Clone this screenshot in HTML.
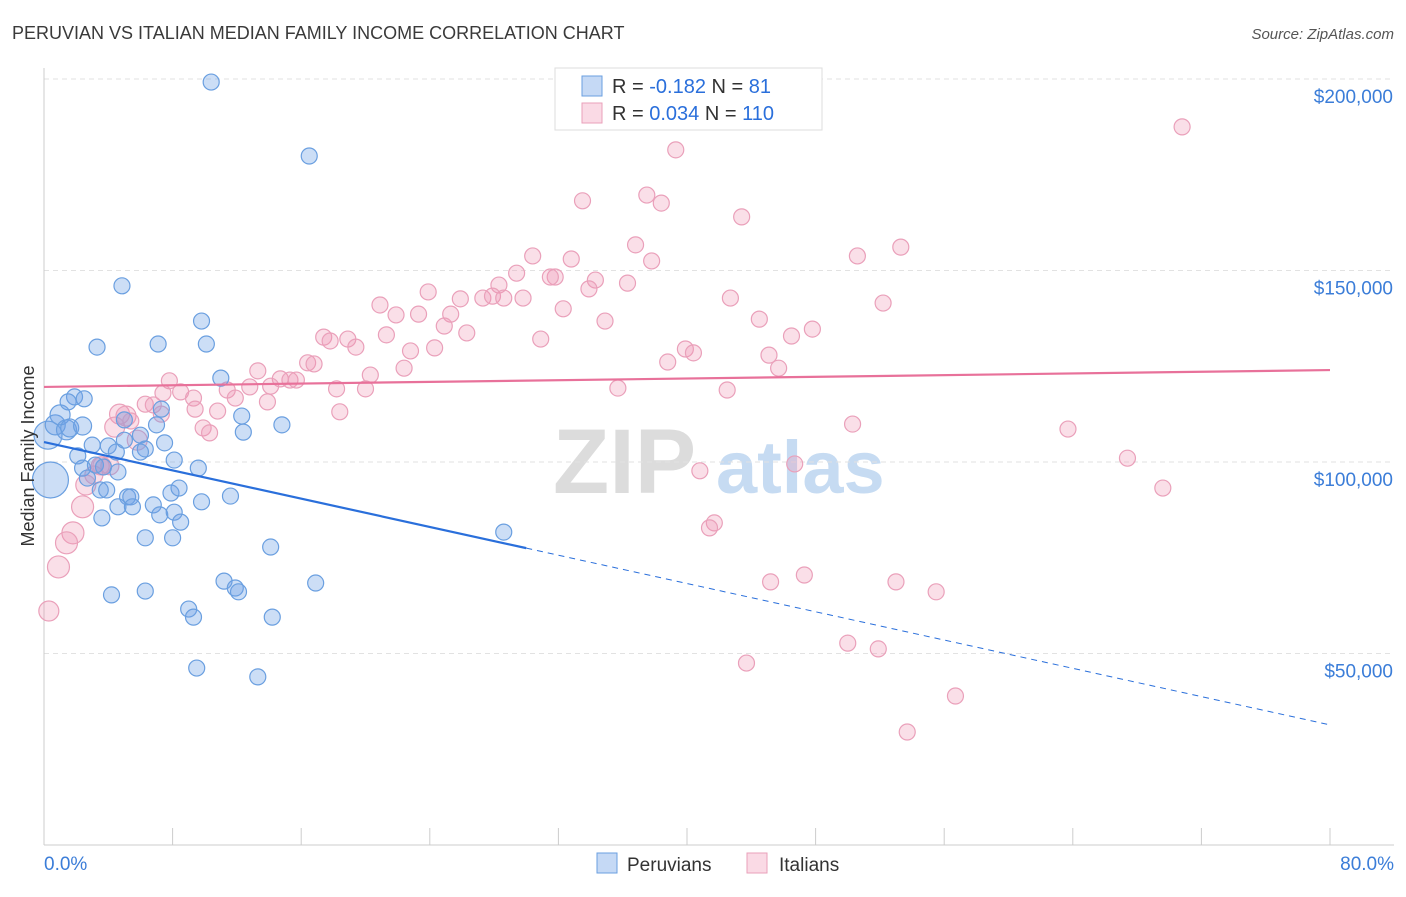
<!DOCTYPE html>
<html><head><meta charset="utf-8">
<style>
body{margin:0;background:#fff;font-family:"Liberation Sans",sans-serif;}
svg text{font-family:"Liberation Sans",sans-serif;}
</style></head>
<body>
<svg id="chart" width="1406" height="892" viewBox="0 0 1406 892" xmlns="http://www.w3.org/2000/svg">
<text x="12" y="39" font-size="18" fill="#3a3a3a">PERUVIAN VS ITALIAN MEDIAN FAMILY INCOME CORRELATION CHART</text>
<text x="1394" y="39" font-size="15" fill="#555" font-style="italic" text-anchor="end">Source: ZipAtlas.com</text>
<g>
<text x="553" y="493" font-size="92" fill="#dcdcdc" font-family="Liberation Serif" font-weight="bold">ZIP</text>
<text x="716" y="493" font-size="74" fill="#c6dbf2" font-weight="bold">atlas</text>
</g>
<g id="grid"></g>
<g id="axes"></g>
<g id="marks"></g>
<text transform="translate(34,456) rotate(-90)" font-size="18" fill="#333" text-anchor="middle">Median Family Income</text>
<g>
<rect x="555" y="68" width="267" height="62" fill="#fff" stroke="#ddd"/>
<rect x="582" y="76" width="20" height="20" fill="rgba(110,160,230,0.4)" stroke="#6a9fe0"/>
<rect x="582" y="103" width="20" height="20" fill="rgba(240,150,180,0.35)" stroke="#eaa0ba"/>
<text x="612" y="93" font-size="20" fill="#333">R = <tspan fill="#2a6fdb">-0.182</tspan>   N = <tspan fill="#2a6fdb">  81</tspan></text>
<text x="612" y="120" font-size="20" fill="#333">R = <tspan fill="#2a6fdb"> 0.034</tspan>   N = <tspan fill="#2a6fdb">110</tspan></text>
</g>
<g>
<rect x="597" y="853" width="20" height="20" fill="rgba(110,160,230,0.4)" stroke="#6a9fe0"/>
<text x="627" y="871" font-size="19" fill="#333">Peruvians</text>
<rect x="747" y="853" width="20" height="20" fill="rgba(240,150,180,0.35)" stroke="#eaa0ba"/>
<text x="779" y="871" font-size="19" fill="#333">Italians</text>
</g>
</svg>
<script>
const yTicks=[50000,100000,150000,200000];
const yTickLabels=["$50,000","$100,000","$150,000","$200,000"];
const xTickCount=10;
const xLabels=["0.0%","80.0%"];
const peruX=[10.4,16.5,4.85,3.3,7.1,9.8,10.1,11.0,0.25,0.4,0.7,1.0,1.4,1.6,1.9,2.5,1.5,2.4,3.0,2.1,2.4,3.2,3.7,4.6,2.7,3.5,3.9,5.2,5.4,4.6,5.5,3.6,4.0,4.5,5.0,6.0,6.3,7.0,7.5,7.3,6.8,7.2,7.9,8.4,8.1,8.5,8.1,9.6,9.8,11.6,6.3,8.0,12.3,12.4,14.8,14.1,4.2,6.3,9.0,9.3,11.2,11.9,12.1,16.9,14.2,9.5,13.3,28.6,5.0,6.0];
const peruY=[199.2,179.9,146,130,130.8,136.8,130.8,121.9,107,95.3,109.7,112.3,108.4,108.9,117,116.5,115.7,109.4,104.4,101.6,98.4,99.2,98.7,97.4,95.8,92.7,92.7,90.9,90.9,88.3,88.3,85.4,104.2,102.6,111,107,103.4,109.7,105,113.8,88.8,86.2,91.9,93.2,86.9,84.3,100.5,98.4,89.6,91.1,80.2,80.2,112,107.8,109.7,77.8,65.3,66.3,61.6,59.5,68.9,67.1,66.1,68.4,59.5,46.2,43.9,81.7,105.7,102.6];
const peruSize=[8,8,8,8,8,8,8,8,14,18,10,10,10,9,8,8,8,9,8,8,8,8,8,8,8,8,8,8,8,8,8,8,8,8,8,8,8,8,8,8,8,8,8,8,8,8,8,8,8,8,8,8,8,8,8,8,8,8,8,8,8,8,8,8,8,8,8,8,8,8];
const italX=[70.8,39.3,37.5,33.5,38.4,43.4,36.8,53.3,50.6,30.4,37.8,32.8,29.4,31.8,31.5,34.3,36.3,33.9,23.9,28.3,25.9,27.3,27.9,28.6,29.8,42.7,52.2,20.9,32.3,23.3,25.3,21.9,34.9,44.5,24.9,47.8,26.3,30.9,21.3,46.5,17.4,17.8,18.9,19.4,22.8,24.3,39.9,40.4,45.1,16.4,16.8,38.8,22.4,45.7,13.3,20.3,14.7,15.3,15.7,7.8,12.8,35.7,42.5,18.2,14.1,11.4,20.0,8.5,7.4,9.3,11.9,13.9,6.3,6.8,9.4,10.8,18.4,4.7,5.1,7.3,5.4,9.9,10.3,50.3,63.7,4.4,5.8,3.5,4.1,3.1,3.6,67.4,69.6,46.7,40.8,2.6,2.4,1.8,1.4,0.9,0.3,41.7,41.4,45.2,47.3,53.0,55.5,43.7,50.0,51.9,56.7,53.7];
const italY=[187.5,181.5,169.7,168.2,167.6,164.0,156.7,156.1,153.8,153.8,152.5,153.0,149.3,148.3,148.3,147.5,146.7,145.2,144.4,146.2,142.6,142.8,143.3,142.8,142.8,142.8,141.5,141.0,140.0,138.6,138.6,138.4,136.8,137.3,135.5,134.7,133.7,132.1,133.2,132.9,132.6,131.6,132.1,130.0,129.0,129.8,129.5,128.5,127.9,125.9,125.6,126.1,124.5,124.5,123.8,122.7,121.7,121.4,121.4,121.2,119.6,119.3,118.8,119.1,119.8,118.8,119.1,118.3,118.0,116.7,116.7,115.7,115.1,114.9,113.8,113.3,113.1,112.5,112.0,112.5,110.7,108.9,107.6,109.9,108.6,109.1,105.7,99.0,99.0,96.6,99.0,101.0,93.2,99.5,97.7,94.0,88.3,81.5,78.9,72.6,61.1,84.1,82.8,68.7,70.5,68.7,66.1,47.5,52.7,51.2,38.9,29.5];
const italSize=[8,8,8,8,8,8,8,8,8,8,8,8,8,8,8,8,8,8,8,8,8,8,8,8,8,8,8,8,8,8,8,8,8,8,8,8,8,8,8,8,8,8,8,8,8,8,8,8,8,8,8,8,8,8,8,8,8,8,8,8,8,8,8,8,8,8,8,8,8,8,8,8,8,8,8,8,8,10,10,8,8,8,8,8,8,10,10,9,9,9,9,8,8,8,8,10,11,11,11,11,10,8,8,8,8,8,8,8,8,8,8,8];
const peruTrend=[105.2,-0.923]; // intercept (k$), slope per %
const italTrend=[119.6,0.055];
const X0=44,X1=1330,Y0=845,YPX=191.5/50000;
const sx=v=>X0+(v/80)*(X1-X0);
const sy=v=>Y0-v*YPX;
const NS="http://www.w3.org/2000/svg";
function mk(tag,attrs,parent){const e=document.createElementNS(NS,tag);for(const k in attrs)e.setAttribute(k,attrs[k]);parent.appendChild(e);return e;}
const grid=document.getElementById('grid'),axes=document.getElementById('axes'),marks=document.getElementById('marks');
yTicks.forEach((t,i)=>{
 const g=mk('line',{x1:X0,x2:1394,y1:sy(t),y2:sy(t),stroke:'#e2e2e2','stroke-dasharray':'5,4'},grid);
 
 
 const l=mk('text',{x:1393,y:sy(t)+24,'font-size':19,fill:'#3b7dd8','text-anchor':'end'},axes);
 l.textContent=yTickLabels[i];
 
 
});
const ax=mk('line',{x1:X0,x2:X0,y1:68,y2:Y0,stroke:'#ccc'},axes);


const bx=mk('line',{x1:X0,x2:1394,y1:Y0,y2:Y0,stroke:'#ccc'},axes);


for(let i=0;i<=xTickCount;i++){
 const x=sx(i*80/xTickCount);
 const t=mk('line',{x1:x,x2:x,y1:828,y2:Y0,stroke:'#ccc'},axes);
 
 
}
const xl0=mk('text',{x:44,y:870,'font-size':19,fill:'#3b7dd8'},axes);xl0.textContent=xLabels[0];


const xl1=mk('text',{x:1394,y:870,'font-size':19,fill:'#3b7dd8','text-anchor':'end'},axes);xl1.textContent=xLabels[1];


italX.forEach((v,i)=>{
 const c=mk('circle',{cx:sx(v),cy:sy(italY[i]*1000),r:italSize[i],fill:'rgba(240,150,180,0.3)',stroke:'#eaa0ba','stroke-width':1.2},marks);
 
 
});
peruX.forEach((v,i)=>{
 const c=mk('circle',{cx:sx(v),cy:sy(peruY[i]*1000),r:peruSize[i],fill:'rgba(110,160,230,0.35)',stroke:'#6a9fe0','stroke-width':1.2},marks);
 
 
});
const pf=x=>(peruTrend[0]+peruTrend[1]*x)*1000, itf=x=>(italTrend[0]+italTrend[1]*x)*1000;
const l1=mk('line',{x1:sx(0),y1:sy(pf(0)),x2:sx(30),y2:sy(pf(30)),stroke:'#2a6fdb','stroke-width':2.2},marks);


const l2=mk('line',{x1:sx(30),y1:sy(pf(30)),x2:sx(80),y2:sy(pf(80)),stroke:'#2a6fdb','stroke-width':1,'stroke-dasharray':'6,5'},marks);


const l3=mk('line',{x1:sx(0),y1:sy(itf(0)),x2:sx(80),y2:sy(itf(80)),stroke:'#e8719a','stroke-width':2.2},marks);


</script>
</body></html>
